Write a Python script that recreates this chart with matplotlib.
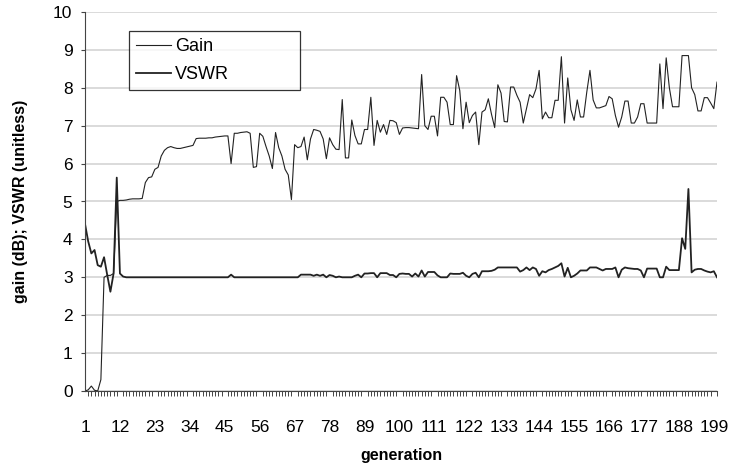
import numpy as np
import matplotlib.pyplot as plt

plt.rcParams['font.family'] = ['Liberation Sans', 'DejaVu Sans']

# values, generation 1..200
gain = [
    0.0, 0.03, 0.13, 0.02, 0.0, 0.3, 3.0, 3.05, 3.05, 3.1,
    5.0, 5.03, 5.03, 5.04, 5.06, 5.07, 5.07, 5.07, 5.08, 5.5,
    5.63, 5.65, 5.85, 5.9, 6.2, 6.35, 6.42, 6.45, 6.42, 6.4,
    6.4, 6.42, 6.44, 6.46, 6.48, 6.66, 6.67, 6.67, 6.67, 6.68,
    6.68, 6.7, 6.71, 6.72, 6.73, 6.73, 6.0, 6.8, 6.8, 6.82,
    6.83, 6.84, 6.8, 5.9, 5.92, 6.8, 6.72, 6.45, 6.2, 5.87,
    6.82, 6.42, 6.2, 5.85, 5.7, 5.05, 6.5, 6.42, 6.45, 6.7,
    6.1, 6.65, 6.9, 6.88, 6.85, 6.65, 6.13, 6.68, 6.5, 6.38,
    6.37, 7.69, 6.15, 6.15, 7.15, 6.74, 6.52, 6.52, 6.9, 6.9,
    7.75, 6.48, 7.14, 6.83, 7.03, 6.77, 7.14, 7.13, 7.08, 6.77,
    6.94, 6.95, 6.95, 6.94, 6.93, 6.92, 8.35, 7.0, 6.9, 7.25,
    7.25, 6.73, 7.75, 7.75, 7.62, 7.03, 7.03, 8.32, 7.93, 6.92,
    7.62, 7.08, 7.27, 7.36, 6.5, 7.36, 7.42, 7.71, 7.3, 6.95,
    8.08, 7.86, 7.11, 7.1, 8.02, 8.02, 7.8, 7.62, 7.07, 7.45,
    7.82, 7.74, 7.97, 8.46, 7.18, 7.36, 7.21, 7.21, 7.67, 7.67,
    8.82, 7.07, 8.26, 7.42, 7.14, 7.68, 7.23, 7.23, 7.89, 8.46,
    7.68, 7.47, 7.47, 7.5, 7.53, 7.77, 7.71, 7.27, 6.96, 7.23,
    7.65, 7.65, 7.07, 7.07, 7.23, 7.58, 7.58, 7.07, 7.07, 7.07,
    7.07, 8.63, 7.45, 8.79, 8.0, 7.5, 7.5, 7.5, 8.85, 8.85,
    8.85, 8.0, 7.82, 7.39, 7.39, 7.74, 7.74, 7.6, 7.45, 8.15,
]

vswr = [
    4.41, 3.95, 3.63, 3.72, 3.32, 3.28, 3.53, 3.06, 2.62, 3.1,
    5.63, 3.1, 3.02, 3.0, 3.0, 3.0, 3.0, 3.0, 3.0, 3.0,
    3.0, 3.0, 3.0, 3.0, 3.0, 3.0, 3.0, 3.0, 3.0, 3.0,
    3.0, 3.0, 3.0, 3.0, 3.0, 3.0, 3.0, 3.0, 3.0, 3.0,
    3.0, 3.0, 3.0, 3.0, 3.0, 3.0, 3.07, 3.0, 3.0, 3.0,
    3.0, 3.0, 3.0, 3.0, 3.0, 3.0, 3.0, 3.0, 3.0, 3.0,
    3.0, 3.0, 3.0, 3.0, 3.0, 3.0, 3.0, 3.0, 3.07, 3.07,
    3.07, 3.07, 3.04, 3.07, 3.04, 3.07, 3.0, 3.06, 3.04, 3.0,
    3.02, 3.0, 3.0, 3.0, 3.0, 3.04, 3.07, 3.0, 3.1, 3.1,
    3.11, 3.11, 3.0, 3.11, 3.11, 3.11, 3.06, 3.06, 3.0, 3.09,
    3.1, 3.09, 3.09, 3.02, 3.1, 3.02, 3.18, 3.02, 3.14, 3.14,
    3.14, 3.05, 3.0, 3.0, 3.0, 3.1, 3.09, 3.09, 3.09, 3.12,
    3.04, 3.0, 3.09, 3.12, 3.0, 3.16, 3.16, 3.16, 3.17, 3.2,
    3.26, 3.26, 3.26, 3.26, 3.26, 3.26, 3.26, 3.15, 3.19, 3.26,
    3.19, 3.26, 3.22, 3.04, 3.16, 3.13, 3.19, 3.22, 3.26, 3.3,
    3.37, 3.02, 3.25, 3.0, 3.04, 3.1, 3.18, 3.18, 3.18, 3.26,
    3.26, 3.26, 3.22, 3.18, 3.22, 3.22, 3.22, 3.26, 3.0, 3.2,
    3.26, 3.24, 3.23, 3.22, 3.22, 3.18, 3.0, 3.23, 3.23, 3.23,
    3.23, 3.0, 3.0, 3.28, 3.19, 3.19, 3.19, 3.19, 4.03, 3.75,
    5.33, 3.13, 3.2, 3.22, 3.22, 3.18, 3.15, 3.13, 3.16, 3.0,
]

generation = np.arange(1, len(gain) + 1)
tick_gens = list(range(1, 200, 11))

fig = plt.figure(figsize=(7.29, 4.69), dpi=100)
ax = fig.add_axes([85 / 729, 1 - 391 / 469, 632 / 729, 379 / 469])

ax.plot(generation, gain, color='#222222', lw=0.8, label='Gain')
ax.plot(generation, vswr, color='#222222', lw=1.3, label='VSWR')

ax.set_xlim(1, 200)
ax.set_ylim(0, 10)
ax.set_yticks(range(0, 11))
ax.set_xticks(tick_gens)
ax.set_xticks(generation, minor=True)
ax.tick_params(axis='x', which='major', length=0, pad=21, labelsize=12.5)
ax.tick_params(axis='x', which='minor', length=3.5, width=0.7, color='#444444')
ax.tick_params(axis='y', length=3, width=0.8, color='#444444', pad=6, labelsize=12.5)

ax.grid(axis='y', color='#d4d4d4', lw=1.2)
ax.set_axisbelow(True)
for s in ['top', 'right']:
    ax.spines[s].set_visible(False)
ax.spines['left'].set_color('#444444')
ax.spines['bottom'].set_color('#444444')

ax.set_xlabel('generation', fontsize=11.5, fontweight='bold', labelpad=9)
ax.set_ylabel('gain (dB); VSWR (unitless)', fontsize=11.5, fontweight='bold', labelpad=18)

leg = ax.legend(loc='upper left', bbox_to_anchor=(0.0696, 0.95, 0.27, 0.0),
                mode='expand', fontsize=13, frameon=True, fancybox=False,
                edgecolor='black', handlelength=1.9, handletextpad=0.25,
                labelspacing=0.6, borderpad=0.4, borderaxespad=0)
leg.get_frame().set_linewidth(0.9)

plt.savefig('out.png', dpi=100)
